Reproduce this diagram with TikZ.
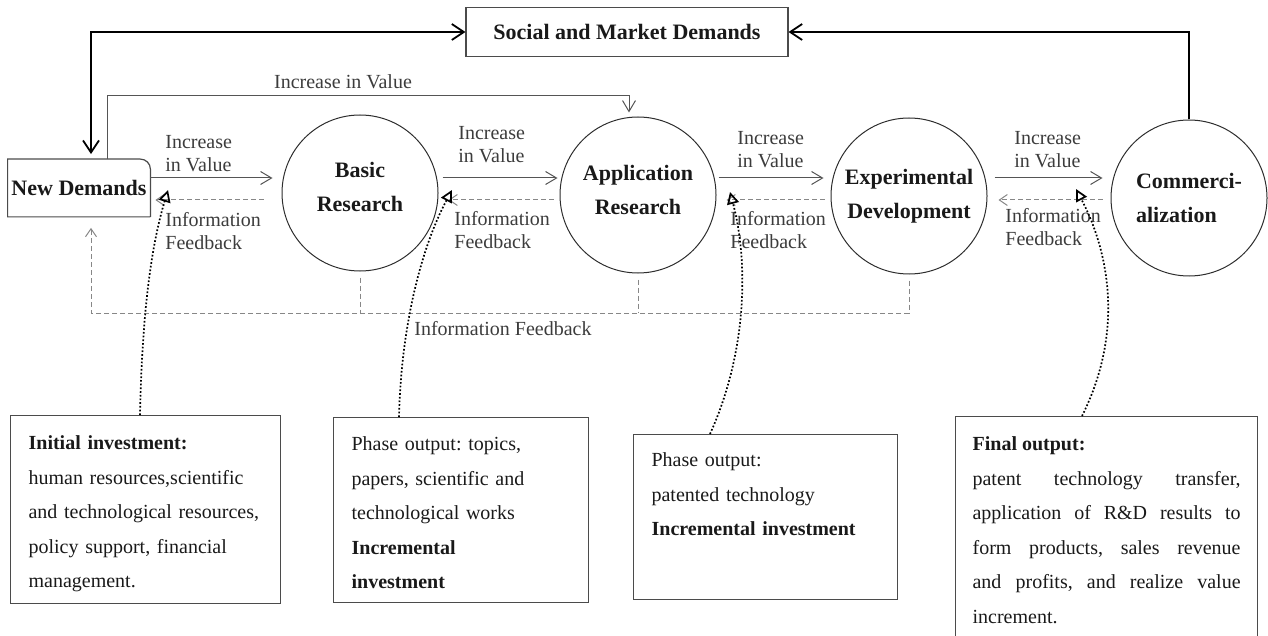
\documentclass[tikz,border=0pt]{standalone}
\usepackage{fontspec}
\setmainfont{Liberation Serif}
\usepackage{tikz}
\usetikzlibrary{arrows.meta,positioning}
\usepackage{xcolor}
\frenchspacing
\definecolor{txtdark}{RGB}{25,25,25}
\definecolor{labgray}{RGB}{60,60,60}
\definecolor{linegray}{RGB}{85,85,85}
\definecolor{fbgray}{RGB}{135,135,135}
\definecolor{circgray}{RGB}{45,45,45}
\definecolor{boxgray}{RGB}{75,75,75}
\tikzstyle{boxline} = [draw=boxgray, line width=0.6pt]
\tikzstyle{topbox} = [draw=boxgray, line width=0.6pt, minimum width=161pt, minimum height=24.5pt, inner sep=1pt, font=\fontsize{11}{13}\selectfont\bfseries, text=txtdark]
\tikzstyle{ndbox} = [minimum width=71pt, minimum height=28.5pt, inner sep=1pt, font=\fontsize{11}{13}\selectfont\bfseries, text=txtdark]
\tikzstyle{stage} = [circle, draw=circgray, line width=0.5pt, minimum size=78pt, inner sep=0pt, align=center, font=\fontsize{11}{17}\selectfont\bfseries, text=txtdark]
\tikzstyle{lab} = [align=left, inner sep=0pt, font=\fontsize{10}{11.5}\selectfont, text=labgray]
\tikzstyle{outbox} = [draw=boxgray, line width=0.6pt, anchor=north west, inner xsep=9pt, inner ysep=0pt, align=left, font=\fontsize{10}{17.25}\selectfont, text=txtdark]
\tikzstyle{incr} = [draw=linegray, line width=0.5pt, -{Straight Barb[length=5.5pt,width=6.5pt]}]
\tikzstyle{fb} = [draw=fbgray, line width=0.5pt, dash pattern=on 2.5pt off 1.5pt]
\tikzstyle{fbarrow} = [fb, -{Straight Barb[length=4pt,width=5.5pt]}]
\tikzstyle{bigtip} = [black, line width=0.9pt, -{Straight Barb[length=6pt,width=8pt]}]
\tikzstyle{bigarrow} = [black, line width=0.9pt, {Straight Barb[length=6pt,width=8pt]}-{Straight Barb[length=6pt,width=8pt]}]
\tikzstyle{dotarrow} = [black, densely dotted, line width=0.85pt, -{Triangle[open,length=6pt,width=6pt]}]

\begin{document}
\begin{tikzpicture}[x=0.5pt, y=-0.5pt]
    \useasboundingbox (0,0) rectangle (1268,636);

    % Levels of the long connectors
    \coordinate (fwd) at (0,178);
    \coordinate (back) at (0,200);
    \coordinate (top) at (0,96);
    \coordinate (bot) at (0,313);

    % Demands
    \node[topbox] (social) at (627,32) {Social and Market Demands};
    \node[ndbox] (nd) at (79,188) {New Demands};
    \draw[boxline] (nd.south east) -- (nd.south west) -- (nd.north west) [rounded corners=5pt] -- (nd.north east) [sharp corners] -- (nd.south east);

    % Stages
    \node[stage, text depth=6pt] (basic) at (360,193) {Basic\\Research};
    \node[stage, text depth=5pt] (appl) at (638,195) {Application\\Research};
    \node[stage] (exper) at (909,196) {Experimental\\Development};
    \node[stage, align=left] (comm) at (1189,198) {Commerci-\\alization};

    % Increase in value
    \draw[incr, shorten >=4.5pt] (nd.east |- fwd) -- (basic.west |- fwd);
    \draw[incr, shorten <=2pt, shorten >=1pt] (basic.east |- fwd) -- (appl.west |- fwd);
    \draw[incr, shorten <=1pt, shorten >=3.5pt] (appl.east |- fwd) -- (exper.west |- fwd);
    \draw[incr, shorten <=3.5pt, shorten >=4pt] (exper.east |- fwd) -- (comm.west |- fwd);
    \node[lab, anchor=west] (incA) at (165,154) {Increase\\in Value};
    \node[lab, anchor=west] (incB) at (458,145) {Increase\\in Value};
    \node[lab, anchor=west] (incC) at (737,150) {Increase\\in Value};
    \node[lab, anchor=west] (incD) at (1014,150) {Increase\\in Value};

    % Information feedback
    \draw[fbarrow, shorten <=9pt, shorten >=2.5pt] (basic.west |- back) -- (nd.east |- back);
    \draw[fbarrow, shorten <=3pt, shorten >=5pt] (appl.west |- back) -- (basic.east |- back);
    \draw[fbarrow, shorten <=3pt, shorten >=5pt] (exper.west |- back) -- (appl.east |- back);
    \draw[fbarrow, shorten <=4pt, shorten >=5.5pt] (comm.west |- back) -- (exper.east |- back);
    \node[lab, anchor=west] (fbA) at (165,231) {Information\\Feedback};
    \node[lab, anchor=west] (fbB) at (454,230) {Information\\Feedback};
    \node[lab, anchor=west] (fbC) at (730,230) {Information\\Feedback};
    \node[lab, anchor=west] (fbD) at (1005,227) {Information\\Feedback};

    % Upper links
    \coordinate (ndin) at ([xshift=6pt]nd.north);
    \coordinate (ndup) at ([xshift=14pt]nd.north);
    \coordinate (applin) at ([xshift=-4.5pt]appl.north);
    \draw[bigarrow, shorten >=2.5pt] (social.west) -| (ndin);
    \draw[bigtip] (comm.north) |- (social.east);
    \draw[incr, shorten >=2pt] (ndup) |- (applin |- top) -- (applin);
    \node[lab] (incTop) at (343,82) {Increase in Value};

    % Feedback back to new demands
    \coordinate (ndout) at ([xshift=6pt]nd.south);
    \draw[fbarrow, shorten >=5.5pt] (exper.south |- bot) -| (ndout);
    \draw[fb, shorten <=3pt] (basic.south) -- (basic.south |- bot);
    \draw[fb, shorten <=3pt] (appl.south) -- (appl.south |- bot);
    \draw[fb, shorten <=3pt] (exper.south) -- (exper.south |- bot);
    \node[lab] (fbBot) at (503,329) {Information Feedback};

    % Inputs and outputs
    \node[outbox, text width=117pt, text height=17pt, text depth=77pt] (inv) at (10,415)
        {\textbf{Initial investment:}\\human resources,scientific\\and technological resources,\\policy support, financial\\management.};
    \node[outbox, text width=109.5pt, text height=16.5pt, text depth=76pt] (inc) at (333,417)
        {Phase output: topics,\\papers, scientific and\\technological works\\\textbf{Incremental}\\\textbf{investment}};
    \node[outbox, text width=114pt, text height=16pt, text depth=66.5pt] (pat) at (633,434)
        {Phase output:\\patented technology\\\textbf{Incremental investment}};
    \node[outbox, align=justify, inner xsep=8.5pt, text width=134pt, text height=17pt, text depth=95pt] (fin) at (955,416)
        {\textbf{Final output:}\newline patent technology transfer,\linebreak application of R\&D results to\linebreak form products, sales revenue\linebreak and profits, and realize value\linebreak increment.};

    % Dotted links
    \coordinate (tipA) at (168,190);
    \coordinate (tipB) at (452,190);
    \coordinate (tipC) at (730,192);
    \coordinate (tipD) at (1076,189);
    \draw[dotarrow] (inv.north -| 140,0) .. controls (142,320) and (150,250) .. (tipA);
    \draw[dotarrow] (inc.north -| 399,0) .. controls (401,330) and (420,250) .. (tipB);
    \draw[dotarrow] (pat.north -| 710,0) .. controls (748,350) and (748,260) .. (tipC);
    \draw[dotarrow] (fin.north -| 1082,0) .. controls (1125,330) and (1108,250) .. (tipD);
\end{tikzpicture}
\end{document}
